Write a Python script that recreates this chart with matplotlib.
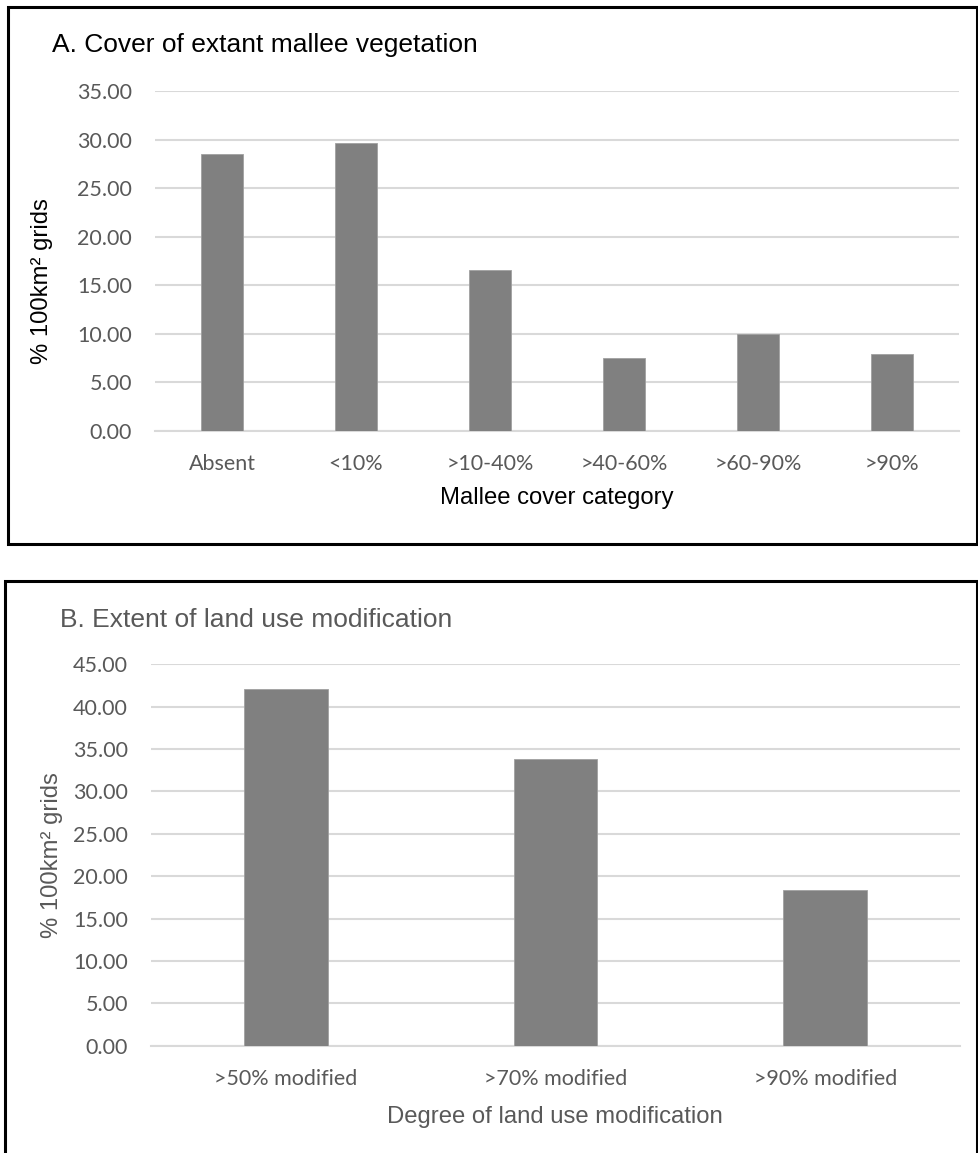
import numpy as np
import matplotlib.pyplot as plt
from matplotlib.patches import Rectangle

plt.rcParams['font.family'] = ['Lato', 'DejaVu Sans']

# Data
cover_cats = ['Absent', '<10%', '>10-40%', '>40-60%', '>60-90%', '>90%']
cover_pct = [28.46, 29.62, 16.52, 7.52, 9.93, 7.93]

landuse_cats = ['>50% modified', '>70% modified', '>90% modified']
landuse_pct = [42.12, 33.80, 18.40]

W, H = 979, 1153
fig = plt.figure(figsize=(W / 100, H / 100), dpi=100)


def px_box(l, t, r, b):
    """Pixel box (from top-left) -> figure fraction rect"""
    return [l / W, 1 - b / H, (r - l) / W, (b - t) / H]


def frame(l, t, r, b):
    fig.patches.append(Rectangle((l / W, 1 - b / H), (r - l) / W, (b - t) / H,
                                 transform=fig.transFigure, fill=False,
                                 edgecolor='black', linewidth=2.2))


def bar_panel(box, cats, vals, ymax, xpad):
    ax = fig.add_axes(px_box(*box))
    x = np.arange(len(cats))
    ax.bar(x, vals, width=0.31, color='#808080', edgecolor='#a0a0a0',
           linewidth=0.6, zorder=3)
    ax.set_xlim(-0.5, len(cats) - 0.5)
    ax.set_ylim(0, ymax)
    ticks = np.arange(0, ymax + 1, 5)
    ax.set_yticks(ticks)
    ax.set_yticklabels(['%.2f' % t for t in ticks])
    ax.set_xticks(x)
    ax.set_xticklabels(cats)
    ax.grid(axis='y', color='#d9d9d9', linewidth=1.5, zorder=0)
    ax.set_axisbelow(True)
    for s in ['top', 'right', 'left']:
        ax.spines[s].set_visible(False)
    ax.spines['bottom'].set_color('#d9d9d9')
    ax.spines['bottom'].set_linewidth(1.5)
    ax.tick_params(length=0, labelsize=15.5, labelcolor='#595959')
    ax.tick_params(axis='y', pad=16.5)
    ax.tick_params(axis='x', pad=xpad)
    return ax


arial = 'Liberation Sans'

# Panel A
frame(8, 7, 977.5, 544)
bar_panel((155, 91, 959, 430.7), cover_cats, cover_pct, 35, 16.5)
fig.text(52 / W, 1 - 52 / H, 'A. Cover of extant mallee vegetation',
         family=arial, fontsize=19, color='black', va='baseline')
fig.text(42 / W, 1 - 281 / H, '% 100km² grids', family=arial,
         fontsize=17.2, rotation=90, ha='center', va='center', color='black')
fig.text(557 / W, 1 - 498 / H, 'Mallee cover category', family=arial,
         fontsize=17.2, ha='center', va='center', color='black')

# Panel B (bottom edge of the frame runs off the page)
frame(5, 581, 977.5, 1165)
bar_panel((151, 664.3, 960, 1045.7), landuse_cats, landuse_pct, 45, 17)
fig.text(60 / W, 1 - 626.7 / H, 'B. Extent of land use modification',
         family=arial, fontsize=19, color='#595959', va='baseline')
fig.text(52.5 / W, 1 - 855 / H, '% 100km² grids', family=arial,
         fontsize=17.2, rotation=90, ha='center', va='center', color='#595959')
fig.text(555 / W, 1 - 1117 / H, 'Degree of land use modification', family=arial,
         fontsize=17.2, ha='center', va='center', color='#595959')

fig.savefig('out.png', dpi=100)
